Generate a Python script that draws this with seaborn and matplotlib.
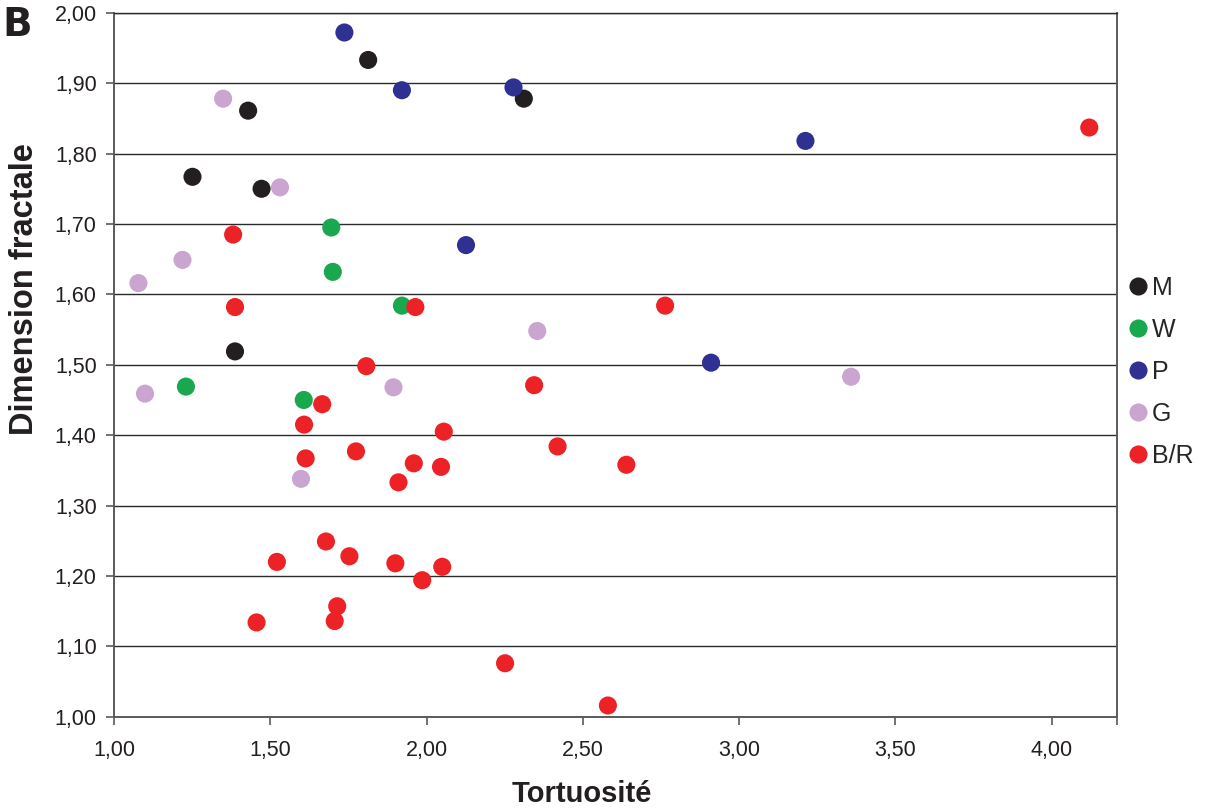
import pandas as pd
import matplotlib
matplotlib.use("Agg")
import matplotlib.pyplot as plt
import seaborn as sns

# --- Data (Tortuosité, Dimension fractale) ---
m_x = [1.813, 1.429, 2.311, 1.251, 1.472, 1.387]
m_y = [1.933, 1.861, 1.878, 1.767, 1.750, 1.519]

w_x = [1.695, 1.700, 1.921, 1.230, 1.607]
w_y = [1.695, 1.632, 1.584, 1.469, 1.450]

p_x = [1.737, 1.921, 2.278, 2.126, 3.212, 2.910]
p_y = [1.972, 1.890, 1.894, 1.670, 1.818, 1.503]

g_x = [1.349, 1.531, 1.219, 1.078, 1.099, 1.894, 2.354, 3.358, 1.598]
g_y = [1.878, 1.752, 1.649, 1.616, 1.459, 1.468, 1.548, 1.483, 1.338]

br_x = [1.381, 1.387, 1.964, 1.807, 2.344, 4.120, 2.763, 1.666, 1.608, 2.055,
        2.419, 1.774, 1.613, 1.959, 2.046, 1.910, 2.639, 1.678, 1.753, 1.521,
        1.900, 2.050, 1.986, 1.714, 1.706, 1.456, 2.251, 2.580]
br_y = [1.685, 1.582, 1.582, 1.498, 1.471, 1.837, 1.584, 1.444, 1.415, 1.405,
        1.384, 1.377, 1.367, 1.360, 1.355, 1.333, 1.358, 1.249, 1.228, 1.220,
        1.218, 1.213, 1.194, 1.157, 1.136, 1.134, 1.076, 1.016]

groups = ["M", "W", "P", "G", "B/R"]
colors = {"M": "#231f20", "W": "#1aa84f", "P": "#2e3192",
          "G": "#c9a5cf", "B/R": "#ec2227"}

x_ticks = [1.0, 1.5, 2.0, 2.5, 3.0, 3.5, 4.0]
y_ticks = [1.0, 1.1, 1.2, 1.3, 1.4, 1.5, 1.6, 1.7, 1.8, 1.9, 2.0]

# Build long table for seaborn
frames = []
for name, xs, ys in zip(groups, [m_x, w_x, p_x, g_x, br_x], [m_y, w_y, p_y, g_y, br_y]):
    frames.append(pd.DataFrame({"Tortuosité": xs, "Dimension fractale": ys, "Groupe": name}))
df = pd.concat(frames, ignore_index=True)

sns.set_style("white")
plt.rcParams["font.family"] = ["Liberation Sans", "DejaVu Sans"]

fig = plt.figure(figsize=(12.08, 8.09), dpi=100)
ax = fig.add_axes([0.0944, 0.114, 0.8306, 0.8702])

sns.scatterplot(data=df, x="Tortuosité", y="Dimension fractale", hue="Groupe",
                hue_order=groups, palette=colors, s=170, linewidth=0,
                edgecolor="none", ax=ax, zorder=3)

x_max = 4.21
ax.set_xlim(1.0, x_max)
ax.set_ylim(1.0, 2.0)

ax.set_xticks(x_ticks + [x_max])
ax.set_xticklabels([f"{v:.2f}".replace(".", ",") for v in x_ticks] + [""])
ax.set_yticks(y_ticks)
ax.set_yticklabels([f"{v:.2f}".replace(".", ",") for v in y_ticks])

# Excel-like horizontal gridlines
ax.yaxis.grid(True, color="#2a2a2a", linewidth=1.0, zorder=0)
ax.xaxis.grid(False)
ax.set_axisbelow(True)

for side in ["left", "bottom", "right"]:
    ax.spines[side].set_color("#5a5a5a")
    ax.spines[side].set_linewidth(1.4)
ax.spines["top"].set_color("#2a2a2a")
ax.spines["top"].set_linewidth(1.0)

ax.tick_params(axis="both", direction="out", length=5.5, width=1.2,
               color="#5a5a5a", labelsize=15.5, labelcolor="#231f20")
ax.tick_params(axis="y", pad=7)
ax.tick_params(axis="x", pad=11)
ax.tick_params(left=True, bottom=True)

ax.set_xlabel("Tortuosité", fontsize=21, fontweight="bold", color="#231f20")
ax.set_ylabel("Dimension fractale", fontsize=23.5, fontweight="bold", color="#231f20")
ax.xaxis.set_label_coords(0.466, -0.09)
ax.yaxis.set_label_coords(-0.074, 0.607)

sns.move_legend(ax, "center left", bbox_to_anchor=(1.008, 0.49), frameon=False,
                title=None, fontsize=18, handletextpad=0.05, handlelength=1.0,
                labelspacing=0.72, borderaxespad=0, borderpad=0)

fig.text(0.002, 0.993, "B", fontsize=28, fontweight="bold", color="#231f20",
         family="DejaVu Sans", ha="left", va="top")

fig.savefig("out.png", dpi=100)
